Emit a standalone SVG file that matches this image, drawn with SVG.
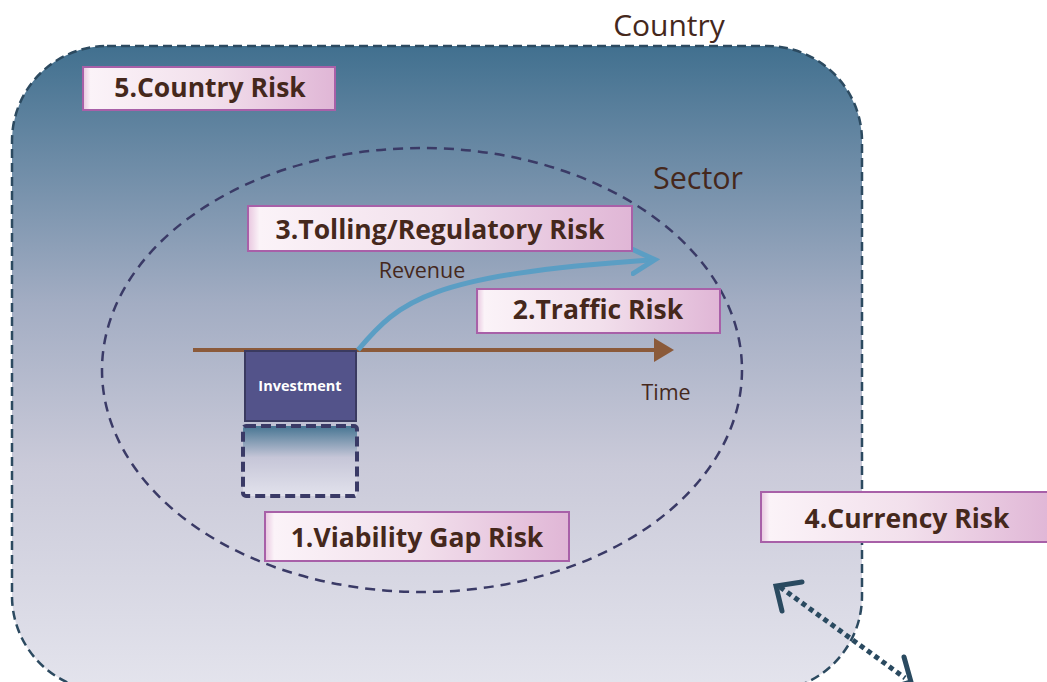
<svg xmlns="http://www.w3.org/2000/svg" width="1047" height="682" viewBox="0 0 1047 682">
<defs>
<linearGradient id="gCountry" x1="0" y1="0" x2="0" y2="1">
<stop offset="0" stop-color="#41708f"/>
<stop offset="0.4" stop-color="#a3adc3"/>
<stop offset="0.65" stop-color="#cacad9"/>
<stop offset="1" stop-color="#e4e4ed"/>
</linearGradient>
<linearGradient id="gLabel" x1="0" y1="0" x2="1" y2="0">
<stop offset="0" stop-color="#e8c6df"/>
<stop offset="0.03" stop-color="#fbf3f8"/>
<stop offset="0.5" stop-color="#f2e0ec"/>
<stop offset="1" stop-color="#e0b6d6"/>
</linearGradient>
<linearGradient id="gGap" x1="0" y1="0" x2="0" y2="1">
<stop offset="0" stop-color="#467592"/>
<stop offset="0.45" stop-color="#c6c6d8"/>
<stop offset="1" stop-color="#e2e2ec"/>
</linearGradient>
<marker id="mTime" markerWidth="6" markerHeight="6" refX="3" refY="3" orient="auto" markerUnits="strokeWidth">
<path d="M0,0 L5,3 L0,6 Z" fill="#8b5a3a"/>
</marker>
<marker id="mRev" markerWidth="6" markerHeight="6" refX="4" refY="3" orient="auto" markerUnits="strokeWidth">
<path d="M0,0.3 L5,3 L0,5.7" fill="none" stroke="#5b9ec4" stroke-width="1"/>
</marker>
<style>
.lbl{fill:url(#gLabel);stroke:#a860a8;stroke-width:2}
.lt{font-family:"Open Sans","Noto Sans","Liberation Sans",sans-serif;font-weight:bold;font-size:26.5px;fill:#45281c;text-anchor:middle}
.plain{font-family:"Open Sans","Noto Sans","Liberation Sans",sans-serif;fill:#45281c}
</style>
</defs>
<g id="country">
<rect x="12" y="46" width="850" height="645" rx="95" ry="95" fill="url(#gCountry)" stroke="#2c4a60" stroke-width="2.5" stroke-dasharray="9 5"/>
<text class="plain" x="669" y="36" font-size="30" text-anchor="middle">Country</text>
</g>
<g id="sector">
<ellipse cx="422" cy="370" rx="320" ry="222" fill="none" stroke="#3a3a66" stroke-width="2.5" stroke-dasharray="10 7"/>
<text class="plain" x="698" y="189" font-size="30.5" text-anchor="middle">Sector</text>
</g>
<g id="connectors">
<line x1="193" y1="350" x2="666" y2="350" stroke="#8b5a3a" stroke-width="4" marker-end="url(#mTime)"/>
<path d="M358,350 C400,300 430,275 650,260" fill="none" stroke="#5b9ec4" stroke-width="5" marker-end="url(#mRev)"/>
<path d="M780,587 L905,678" fill="none" stroke="#2a4a60" stroke-width="5" stroke-dasharray="5 4"/>
<path d="M802,582 L776,586 L782,611" fill="none" stroke="#2a4a60" stroke-width="5" stroke-linecap="round" stroke-linejoin="miter"/>
<path d="M904,657 L911,682 L883,690" fill="none" stroke="#2a4a60" stroke-width="5" stroke-linecap="round"/>
</g>
<g id="revenue-label"><text class="plain" x="422" y="278" font-size="21.5" text-anchor="middle">Revenue</text></g>
<g id="time-label"><text class="plain" x="666" y="400" font-size="21.5" text-anchor="middle">Time</text></g>
<g id="investment">
<rect x="245" y="351" width="111" height="70" fill="#53538a" stroke="#3a3a60" stroke-width="2"/>
<text x="300" y="391" font-family="'Open Sans','Noto Sans','Liberation Sans',sans-serif" font-weight="bold" font-size="14.5" fill="#ffffff" text-anchor="middle">Investment</text>
</g>
<g id="gap">
<rect x="243" y="426" width="114" height="70" rx="3" fill="url(#gGap)" stroke="#3a3a66" stroke-width="4" stroke-dasharray="10 5"/>
</g>
<g id="risk5"><rect class="lbl" x="83" y="67" width="252" height="43"/><text class="lt" x="210" y="97">5.Country Risk</text></g>
<g id="risk3"><rect class="lbl" x="248" y="206" width="384" height="45"/><text class="lt" x="440" y="239">3.Tolling/Regulatory Risk</text></g>
<g id="risk2"><rect class="lbl" x="477" y="289" width="243" height="44"/><text class="lt" x="598" y="319">2.Traffic Risk</text></g>
<g id="risk1"><rect class="lbl" x="265" y="512" width="304" height="49"/><text class="lt" x="417" y="547">1.Viability Gap Risk</text></g>
<g id="risk4"><rect class="lbl" x="761" y="492" width="290" height="50"/><text class="lt" x="907" y="528">4.Currency Risk</text></g>
</svg>
